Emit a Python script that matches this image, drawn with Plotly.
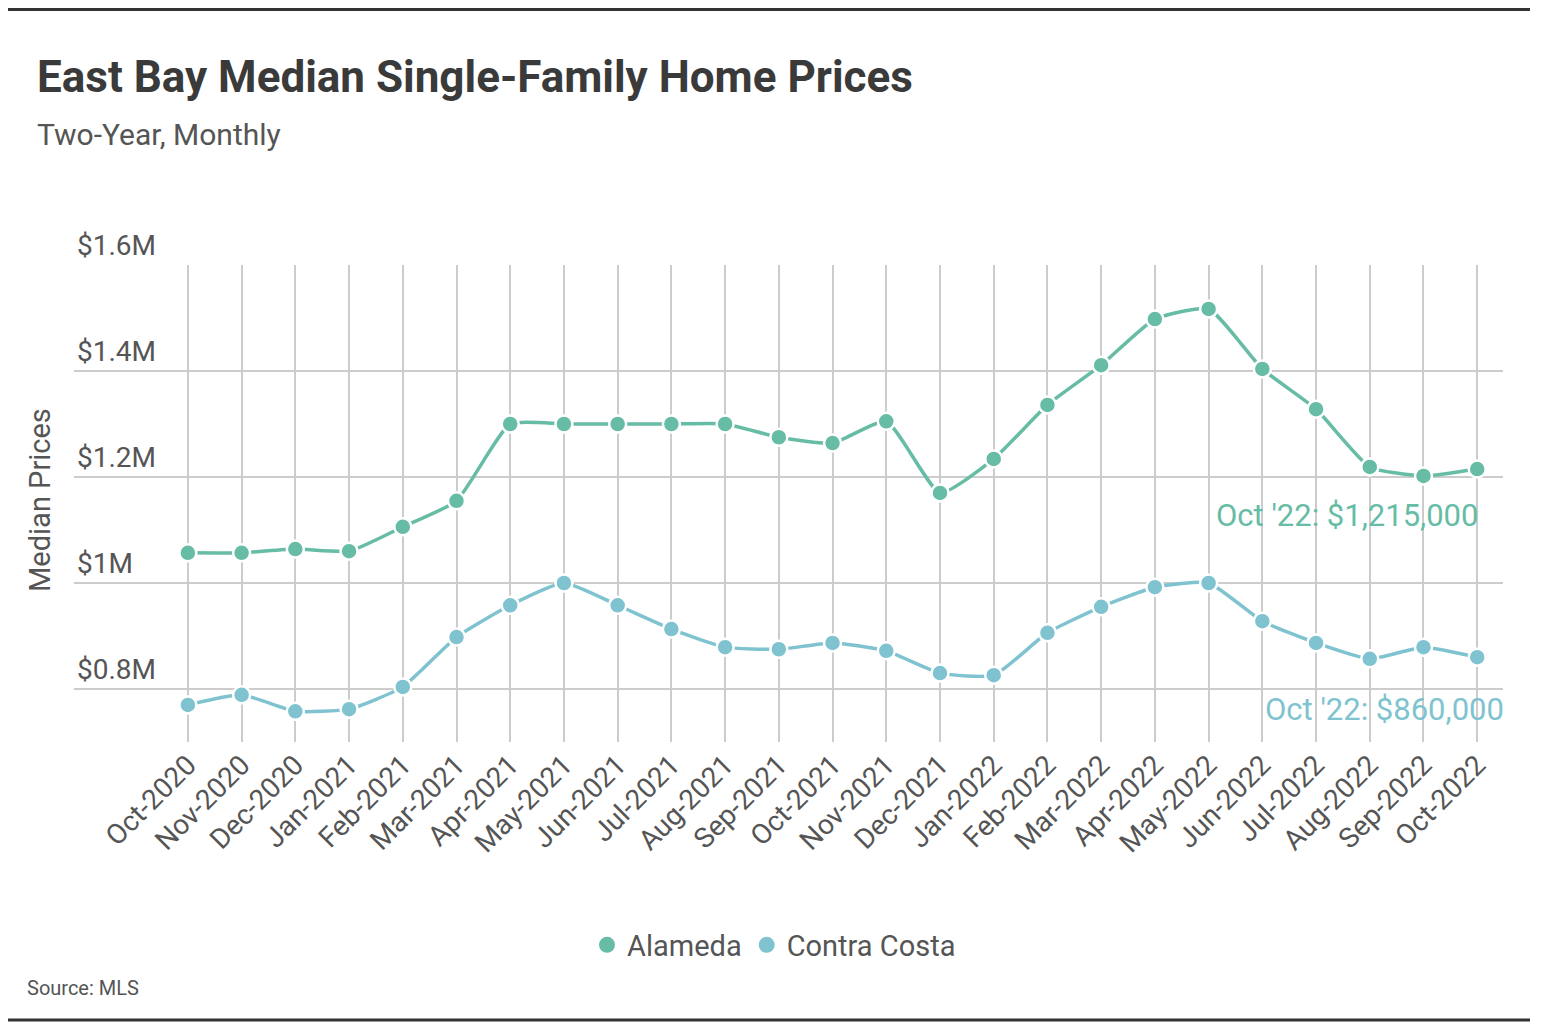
import plotly.graph_objects as go

months = ["Oct-2020", "Nov-2020", "Dec-2020", "Jan-2021", "Feb-2021", "Mar-2021",
          "Apr-2021", "May-2021", "Jun-2021", "Jul-2021", "Aug-2021", "Sep-2021",
          "Oct-2021", "Nov-2021", "Dec-2021", "Jan-2022", "Feb-2022", "Mar-2022",
          "Apr-2022", "May-2022", "Jun-2022", "Jul-2022", "Aug-2022", "Sep-2022",
          "Oct-2022"]

alameda = [1.057, 1.057, 1.064, 1.060, 1.106, 1.155,
           1.300, 1.300, 1.300, 1.300, 1.300, 1.275,
           1.264, 1.305, 1.170, 1.234, 1.336, 1.411,
           1.498, 1.517, 1.404, 1.328, 1.219, 1.202,
           1.215]

contra_costa = [0.770, 0.789, 0.758, 0.762, 0.804, 0.898,
                0.958, 1.000, 0.958, 0.913, 0.879, 0.875,
                0.887, 0.872, 0.830, 0.826, 0.906, 0.955,
                0.992, 1.000, 0.928, 0.887, 0.857, 0.879,
                0.860]

y_ticks = [0.8, 1.0, 1.2, 1.4, 1.6]
y_tick_labels = ["$0.8M", "$1M", "$1.2M", "$1.4M", "$1.6M"]

C_ALA = "#66bca5"
C_CC = "#7ec3cf"
FONT = "Roboto, Liberation Sans, sans-serif"

# plot area in page pixels
PL, PR, PT, PB = 74, 1503, 265, 742
PW = float(PR - PL)
PH = float(PB - PT)


def px(x):
    return (x - PL) / PW


def py(y):
    return (PB - y) / PH


fig = go.Figure()
for name, vals, col in [("Alameda", alameda, C_ALA), ("Contra Costa", contra_costa, C_CC)]:
    fig.add_trace(go.Scatter(
        x=months, y=vals, name=name, mode="lines+markers", showlegend=False,
        line=dict(color=col, width=3.5, shape="spline", smoothing=0.5),
        marker=dict(color=col, size=17, line=dict(color="white", width=2.5)),
    ))
# legend entries (circle glyph only)
for name, col in [("Alameda", C_ALA), ("Contra Costa", C_CC)]:
    fig.add_trace(go.Scatter(
        x=[None], y=[None], name=name, mode="markers", showlegend=True,
        marker=dict(color=col, size=30),
    ))

fig.add_annotation(x=months[-1], y=alameda[-1], text="Oct '22: $1,215,000",
                   showarrow=False, xanchor="right", yanchor="middle", yshift=-46, xshift=3,
                   font=dict(family=FONT, size=31, color=C_ALA))
fig.add_annotation(x=months[-1], y=contra_costa[-1], text="Oct '22: $860,000",
                   showarrow=False, xanchor="right", yanchor="middle", yshift=-52, xshift=29,
                   font=dict(family=FONT, size=31, color=C_CC))

fig.update_layout(
    width=1532, height=1020,
    paper_bgcolor="white", plot_bgcolor="white",
    margin=dict(l=PL - 8, r=1532 - (PR - 8), t=PT - 8, b=1020 - (PB - 8)),
    font=dict(family=FONT, color="#555555"),
    showlegend=True,
    legend=dict(orientation="h", x=0.5, xanchor="center", xref="container",
                y=(1020 - 937) / 1020, yref="container", yanchor="middle",
                font=dict(family=FONT, size=29, color="#555555"),
                traceorder="normal", itemwidth=30),
    xaxis=dict(
        type="category", range=[-2.12, 24.48],
        showgrid=True, gridcolor="#cccccc", gridwidth=1.5,
        showline=False, zeroline=False, ticks="",
        tickangle=-45, tickfont=dict(family=FONT, size=28, color="#555555"),
    ),
    yaxis=dict(
        range=[0.7, 1.6], tickvals=y_ticks, ticktext=y_tick_labels,
        showgrid=True, gridcolor="#cccccc", gridwidth=1.5,
        zeroline=False, showline=False, ticks="",
        ticklabelposition="inside top", ticklabeloverflow="allow",
        tickfont=dict(family=FONT, size=28, color="#555555"),
    ),
)

# title and subtitle
fig.add_annotation(xref="paper", yref="paper", x=px(35), y=py(77),
                   xanchor="left", yanchor="middle", showarrow=False,
                   text="<b>East Bay Median Single-Family Home Prices</b>",
                   font=dict(family=FONT, size=44, color="#3a3a3a"))
fig.add_annotation(xref="paper", yref="paper", x=px(35), y=py(134),
                   xanchor="left", yanchor="middle", showarrow=False,
                   text="Two-Year, Monthly",
                   font=dict(family=FONT, size=30, color="#555555"))

# decorative rules at top and bottom
for ypix in [9.5, 1020]:
    fig.add_shape(type="line", xref="paper", yref="paper",
                  x0=px(8), x1=px(1530), y0=py(ypix), y1=py(ypix),
                  line=dict(color="#333333", width=3))

fig.add_annotation(xref="paper", yref="paper", x=px(25), y=py(988),
                   xanchor="left", yanchor="middle", showarrow=False,
                   text="Source: MLS", font=dict(family=FONT, size=20, color="#555555"))
fig.add_annotation(xref="paper", yref="paper", x=px(40), y=py(500),
                   xanchor="center", yanchor="middle", showarrow=False, textangle=-90,
                   text="Median Prices", font=dict(family=FONT, size=29, color="#555555"))

fig.write_html("out.html")
